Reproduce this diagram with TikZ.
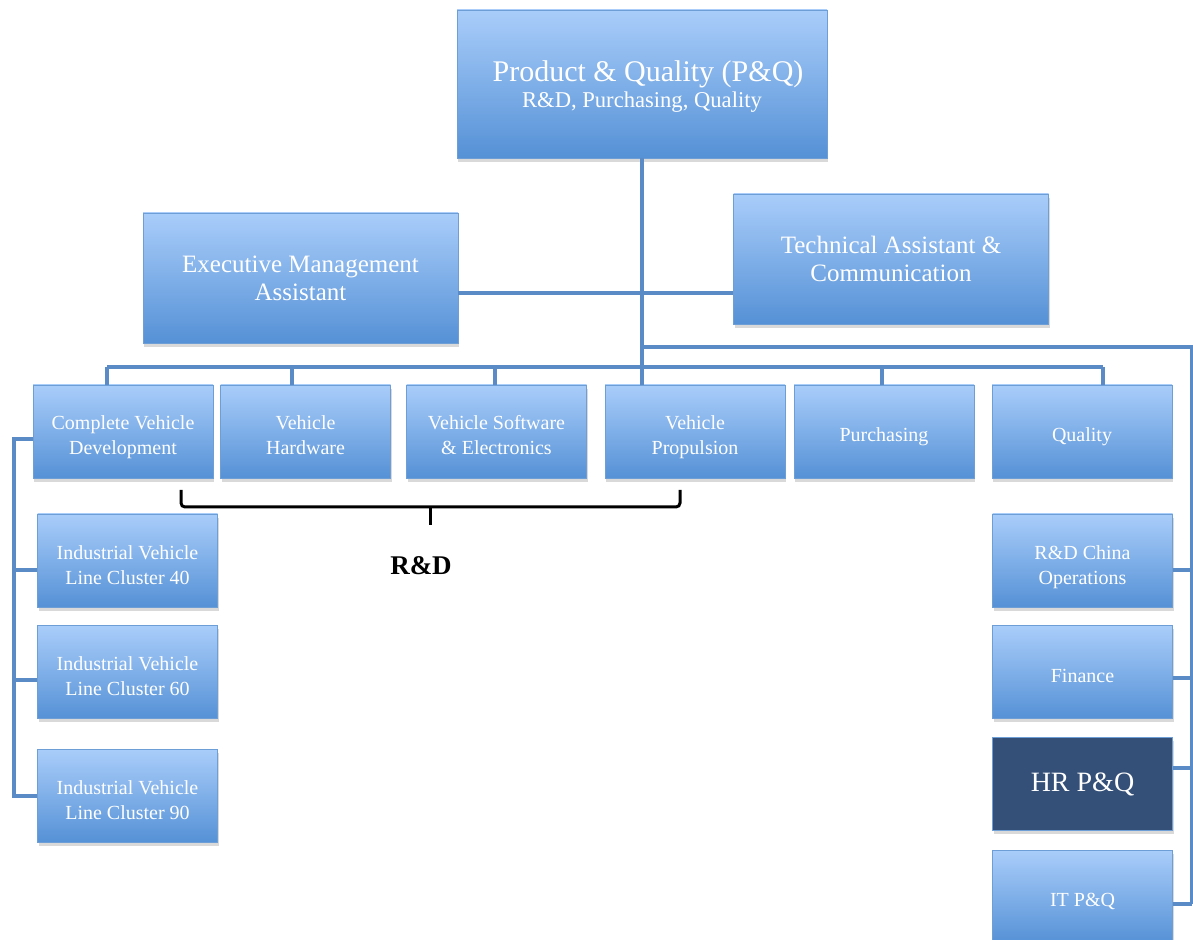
\documentclass[tikz,border=0pt]{standalone}
\usepackage{fontspec}
\setmainfont{Liberation Serif}
\usetikzlibrary{arrows,positioning,shadows}
\definecolor{boxtop}{RGB}{169,205,250}
\definecolor{boxbot}{RGB}{85,145,214}
\definecolor{boxline}{RGB}{110,158,214}
\definecolor{linkc}{RGB}{90,139,198}
\definecolor{hrfill}{RGB}{52,80,120}
\tikzset{
    %Define base look of all boxes
    basebox/.style={
           rectangle,
           top color=boxtop, bottom color=boxbot,
           draw=boxline, thin,
           text=white,
           align=center,
           inner sep=0pt,
           drop shadow={shadow xshift=0.6pt, shadow yshift=-1.8pt, opacity=0.3},
           minimum width=90pt,
           minimum height=46.5pt},
    %Define style for small boxes
    orgbox/.style={
           basebox,
           text depth=0pt,
           text height=23.5pt,
           font=\fontsize{10}{12.5}\selectfont},
    %one line of text
    onebox/.style={
           orgbox,
           text height=10pt},
    bigbox/.style={
           basebox,
           minimum width=157.5pt,
           minimum height=65pt,
           font=\fontsize{12.5}{14}\selectfont},
    darkbox/.style={
           basebox,
           top color=hrfill, bottom color=hrfill,
           font=\fontsize{14}{16}\selectfont},
    % Define line style
    link/.style={
           draw=linkc,
           line width=2pt},
    brace/.style={
           draw=black,
           line width=1.5pt,
           rounded corners=2pt}
}
\begin{document}
\begin{tikzpicture}[x=0.5pt,y=-0.5pt,node distance=9pt]
\useasboundingbox (0,0) rectangle (1193,940);
 %nodes
\node[basebox, minimum width=185pt, minimum height=74pt, text depth=0pt, font=\fontsize{15}{13}\selectfont](pq) at (642,84){\hspace{6pt}Product \& Quality (P\&Q)\\{\fontsize{11.3}{13}\selectfont R\&D, Purchasing, Quality}};
\node[bigbox](exec) at (300.5,278){Executive Management\\Assistant};
\node[bigbox](tech) at (891,259){Technical Assistant \&\\Communication};

\node[orgbox](cvd) at (123,431.5){Complete Vehicle\\Development};
\node[orgbox, minimum width=85pt](vh) at (305.5,431.5){Vehicle\\Hardware};
\node[orgbox](vse) at (496.5,431.5){Vehicle Software\\\& Electronics};
\node[orgbox](vp) at (695,431.5){Vehicle\\Propulsion};
\node[onebox](pur) at (884,431.5){Purchasing};
\node[onebox](qual) at (1082,431.5){Quality};

\node[orgbox](ivl40) at (127.5,560.5){Industrial Vehicle\\Line Cluster 40};
\node[orgbox, below=9pt of ivl40](ivl60){Industrial Vehicle\\Line Cluster 60};
\node[orgbox, below=15pt of ivl60](ivl90){Industrial Vehicle\\Line Cluster 90};

\node[orgbox](rdc) at (1082.5,560.5){R\&D China\\Operations};
\node[onebox, below=9pt of rdc](fin){Finance};
\node[darkbox, below=9pt of fin](hr){HR P\&Q};
\node[onebox, below=9.5pt of hr](it){IT P\&Q};

\node[font=\bfseries\fontsize{13.5}{16}\selectfont](rd) at (421,566){R\&D};

 %connectors
\coordinate (hbar) at (643,293);
\coordinate (rbus) at (1192,347);
\coordinate (rowbus) at (107,367);
\coordinate (lbus) at (14,440);
\coordinate (itend) at ([yshift=-3.5pt]it.east);

\path[link]
	(pq.south) edge (pq.south |- vp.north)
	(exec.east |- hbar) edge (tech.west |- hbar)
	(rowbus) edge (1103,367);
\draw[link] (pq.south |- rbus) -- (rbus) -- (rbus |- itend);
\foreach \n/\x in {cvd/107,vh/292,vse/495,pur/882,qual/1103}
	\draw[link] (\x,367) -- (\n.north -| \x,367);
\foreach \n/\dy in {rdc/-4.5,fin/-3,hr/8,it/-3.5}
	\draw[link] ([yshift=\dy pt]\n.east) -- ([yshift=\dy pt]\n.east -| rbus);
\draw[link] ([yshift=-4pt]cvd.west) -- ([yshift=-4pt]cvd.west -| lbus) |- (ivl90.west);
\foreach \n/\dy in {ivl40/-4.5,ivl60/-4}
	\draw[link] ([yshift=\dy pt]\n.west) -- ([yshift=\dy pt]\n.west -| lbus);

 %brace
\coordinate (bl) at (181,490);
\coordinate (br) at (680,490);
\coordinate (bm) at (430,507);
\draw[brace] (bl) -- (bl |- bm) -- (br |- bm) -- (br);
\draw[brace] (bm) -- ++(0,18);

\end{tikzpicture}
\end{document}
